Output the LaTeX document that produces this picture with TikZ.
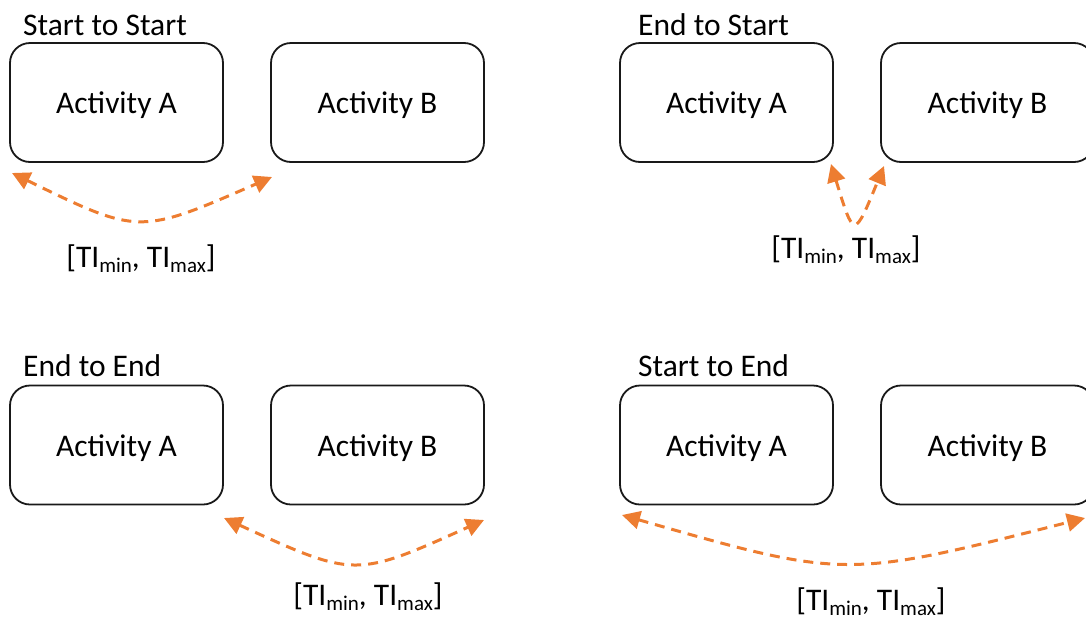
\documentclass[tikz,border=0pt]{standalone}
\usepackage{fontspec}
\setmainfont{Carlito}
\usetikzlibrary{arrows.meta}
\definecolor{arrorange}{HTML}{ED7D31}
\newcommand{\tilabel}{[TI\raisebox{-5pt}{\fontsize{21}{21}\selectfont min}, TI\raisebox{-5pt}{\fontsize{21}{21}\selectfont max}]}
\tikzset{
  actbox/.style={draw=black!90, line width=1.8pt, rounded corners=20pt, minimum width=213pt, minimum height=119pt, inner sep=0pt, text height=22pt, text depth=0pt, font=\fontsize{31.5}{36}\selectfont},
  titletext/.style={anchor=base west, inner sep=0pt, font=\fontsize{31.5}{36}\selectfont},
  tilab/.style={anchor=base, inner sep=0pt, font=\fontsize{31.5}{36}\selectfont},
  lagarrow/.style={draw=arrorange, line width=3pt, dash pattern=on 10pt off 7pt, {Triangle[length=18pt,width=18pt]}-{Triangle[length=18pt,width=18pt]}}
}
\begin{document}
\begin{tikzpicture}[x=1pt,y=-1pt]
\clip (0,0) rectangle (1086,619);
% Start to Start
\node[titletext] (t1) at (23,35) {Start to Start};
\node[actbox] (a1) at (116.5,102.5) {Activity A};
\node[actbox] (b1) at (377.5,102.5) {Activity B};
\coordinate (s1) at (12,173);
\coordinate (e1) at (272,177);
\draw[lagarrow] (s1) .. controls (139,235) .. (e1);
\node[tilab] (l1) at (141,267) {\tilabel};
% End to Start
\node[titletext] (t2) at (638,35) {End to Start};
\node[actbox] (a2) at (726.5,102.5) {Activity A};
\node[actbox] (b2) at (987.5,102.5) {Activity B};
\coordinate (s2) at (831,164);
\coordinate (e2) at (884,166);
\draw[lagarrow] (s2) .. controls (854,239) .. (e2);
\node[tilab] (l2) at (846,258) {\tilabel};
% End to End
\node[titletext] (t3) at (23,376) {End to End};
\node[actbox] (a3) at (116.5,445) {Activity A};
\node[actbox] (b3) at (377.5,445) {Activity B};
\coordinate (s3) at (224,518);
\coordinate (e3) at (484,520);
\draw[lagarrow] (s3) .. controls (355,578) .. (e3);
\node[tilab] (l3) at (368,605) {\tilabel};
% Start to End
\node[titletext] (t4) at (638,376) {Start to End};
\node[actbox] (a4) at (726.5,445) {Activity A};
\node[actbox] (b4) at (987.5,445) {Activity B};
\coordinate (s4) at (622,515);
\coordinate (e4) at (1085,518);
\draw[lagarrow] (s4) .. controls (845,579) .. (e4);
\node[tilab] (l4) at (871,610) {\tilabel};
\end{tikzpicture}
\end{document}
